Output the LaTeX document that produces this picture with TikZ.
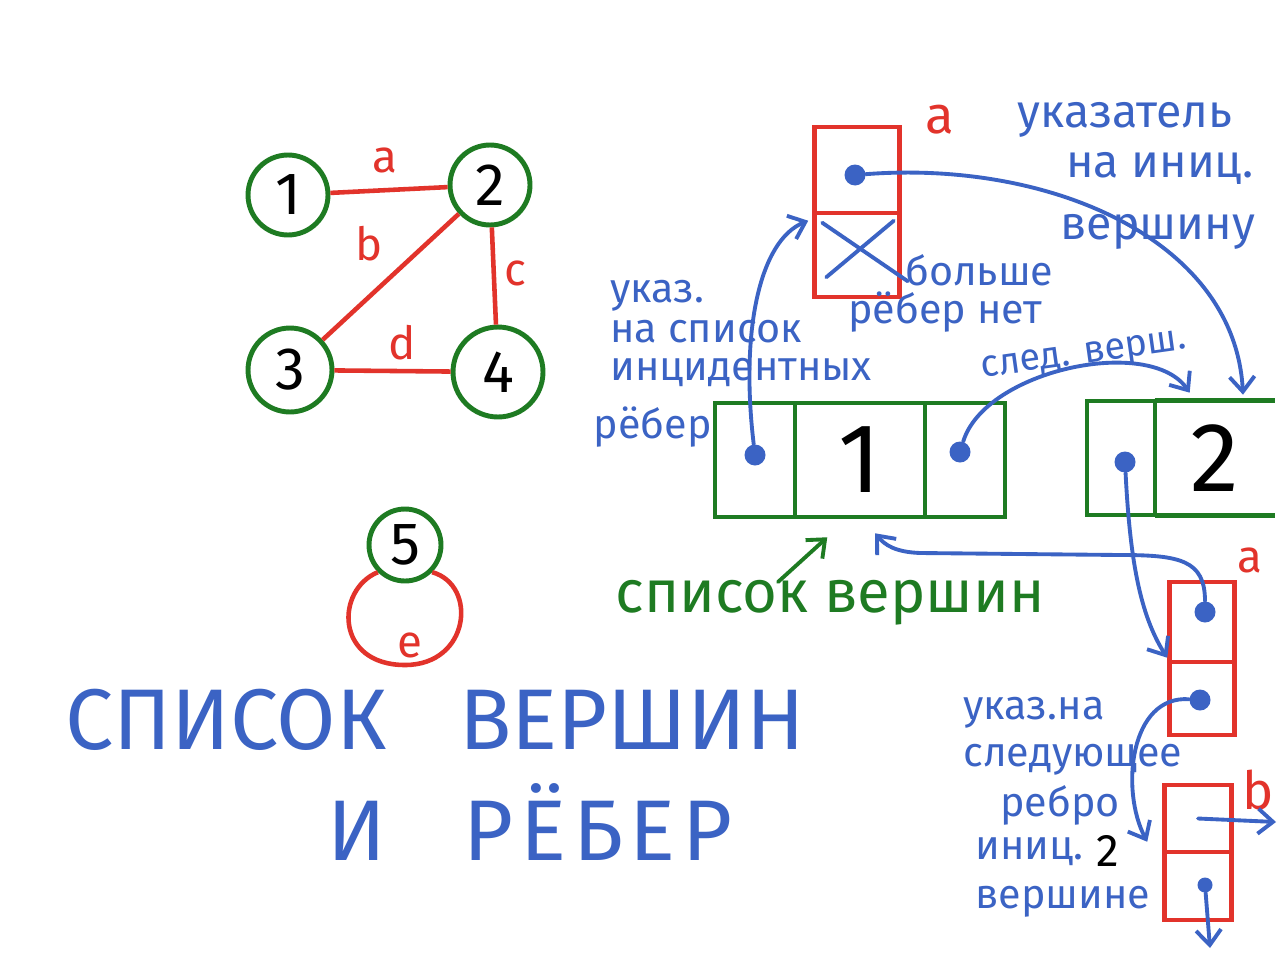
\documentclass[tikz,border=0pt]{standalone}
\usepackage{fontspec}
\setmainfont{Fira Sans}
\usetikzlibrary{arrows.meta,calc,positioning}
\definecolor{bl}{HTML}{3B63C4}
\definecolor{gr}{HTML}{1E7B22}
\definecolor{rd}{HTML}{E2332B}
\tikzset{
  gv/.style={circle,draw=gr,line width=2.8pt,inner sep=0pt,font=\fontsize{34}{34}\selectfont},
  redge/.style={draw=rd,line width=2.6pt},
  rlab/.style={text=rd,font=\fontsize{26}{26}\selectfont,inner sep=0pt},
  gcell/.style={draw=gr,line width=2.6pt,inner sep=0pt,minimum height=2.28cm},
  rcell/.style={draw=rd,line width=2.6pt,inner sep=0pt},
  bdot/.style={circle,fill=bl,minimum size=0.42cm,inner sep=0pt},
  barrow/.style={draw=bl,line width=2.2pt,line cap=round,-{Straight Barb[length=3mm,width=5mm]}},
  bline/.style={draw=bl,line width=2.2pt,line cap=round},
  btxt/.style={text=bl,font=\fontsize{23.5}{23.5}\selectfont,inner sep=0pt},
  bigtxt/.style={text=bl,font=\fontsize{26.5}{26.5}\selectfont,inner sep=0pt},
  ttl/.style={text=bl,font=\fontsize{49}{49}\selectfont,inner sep=0pt},
}
\begin{document}
\begin{tikzpicture}[x=0.02cm,y=-0.02cm]
\useasboundingbox[fill=white] (0,0) rectangle (1280,960);

% ---------- graph ----------
\node[gv,minimum size=1.6cm] (v1) at (288,195) {1};
\node[gv,minimum size=1.6cm] (v2) at (490,185) {2};
\node[gv,minimum size=1.68cm] (v3) at (290,370) {3};
\node[gv,minimum size=1.8cm] (v4) at (498,372) {4};
\draw[redge] (v1) -- node[rlab,shift={(-4,-30)}] (la) {a} (v2);
\draw[redge] (v2) -- node[rlab,shift={(-22,-33)}] (lb) {b} (v3);
\draw[redge] (v2) -- node[rlab,shift={(22,-3)}] (lc) {c} (v4);
\draw[redge] (v3) -- node[rlab,shift={(10,-28)}] (ld) {d} (v4);

\node[gv,minimum size=1.44cm,fill=white] (v5) at (405,545) {5};
\draw[redge] (v5.225) .. controls (335,590) and (335,665) .. (405,665)
  .. controls (470,665) and (478,585) .. (v5.315);
\node[rlab] (le) at (410,645) {e};

% ---------- title ----------
\node[ttl] (t1) at (435,720) {СПИСОК\hspace{1.45cm}ВЕРШИН};
\node[ttl] (t2) at (530,822) {И\hspace{1.55cm}\addfontfeature{LetterSpace=8}РЁБЕР};

% ---------- vertex list ----------
\node[gcell,minimum width=1.6cm] (c11) at (755,460) {};
\node[gcell,minimum width=2.6cm,text depth=0pt,font=\fontsize{56}{56}\selectfont] (c12) at (860,460) {1};
\node[gcell,minimum width=1.6cm] (c13) at (965,460) {};
\node[gcell,minimum width=1.36cm] (c21) at (1121,458) {};
\node[inner sep=0pt,minimum width=2.4cm,minimum height=2.28cm,font=\fontsize{56}{56}\selectfont] (c22) at (1215,458) {2};
\draw[draw=gr,line width=2.6pt] (c22.north west) -- (c22.north east);
\draw[draw=gr,line width=2.6pt] (c22.south west) -- (c22.south east);

\node[bdot] (d11) at (755,455) {};
\node[bdot] (d13) at (960,452) {};
\node[bdot] (d21) at (1125,462) {};

% ---------- edge record a (top) ----------
\node[rcell,minimum width=1.7cm,minimum height=1.72cm] (ea1) at (857,170) {};
\node[rcell,minimum width=1.7cm,minimum height=1.68cm] (ea2) at (857,255) {};
\node[bdot] (dea1) at (855,175) {};
\draw[bline] ($(ea2.north west)+(10,12)$) -- ($(ea2.south east)+(6,-18)$);
\draw[bline] ($(ea2.north east)+(-8,10)$) -- ($(ea2.south west)+(14,-22)$);
\node[text=rd,font=\fontsize{30}{30}\selectfont,inner sep=0pt] (lra) at (940,120) {a};

% ---------- edge record a (bottom right) ----------
\node[rcell,minimum width=1.3cm,minimum height=1.6cm] (eA1) at (1202,622) {};
\node[rcell,minimum width=1.3cm,minimum height=1.46cm] (eA2) at (1202,698.5) {};
\node[bdot] (deA1) at (1205,612) {};
\node[bdot] (deA2) at (1200,700) {};
\node[text=rd,font=\fontsize{26}{26}\selectfont,inner sep=0pt] (lrA) at (1250,560) {a};

% ---------- edge record b ----------
\node[rcell,minimum width=1.34cm,minimum height=1.34cm] (eB1) at (1198,818.5) {};
\node[rcell,minimum width=1.34cm,minimum height=1.36cm] (eB2) at (1198,886) {};
\node[bdot,minimum size=0.3cm] (deB2) at (1205,885) {};
\node[text=rd,font=\fontsize{30}{30}\selectfont,inner sep=0pt] (lrB) at (1258,790) {b};
\coordinate (bout) at (1276,822);
\coordinate (bdown) at (1210,948);

% ---------- arrows ----------
\draw[barrow] (dea1) .. controls (1050,160) and (1235,240) .. ($(c22.north)+(28,-6)$);
\draw[barrow] (d11) .. controls (740,330) and (760,240) .. ($(ea2.north west)+(-4,10)$);
\draw[barrow] (d13) .. controls (985,370) and (1150,335) .. ($(c22.north west)+(35,-8)$);
\draw[barrow] (d21) .. controls (1130,560) and (1140,615) .. ($(eA2.north west)+(0,-2)$);
\draw[barrow] (deA1) .. controls (1205,560) and (1180,555) .. (1120,555) -- (920,553)
   .. controls (895,552) and (885,545) .. ($(c12.south)+(15,14)$);
\draw[barrow] (deA2) .. controls (1130,695) and (1120,790) .. ($(eB2.north west)+(-15,-8)$);
\draw[barrow] (eB1.center) -- (bout);
\draw[barrow] (deB2) -- (bdown);

% ---------- texts ----------
\node[bigtxt] (t_uk) at (1125,120) {указатель};
\node[bigtxt] (t_na) at (1160,168) {на иниц.};
\node[bigtxt] (t_ve) at (1158,232) {вершину};

\node[btxt,anchor=west] (l1) at (610,296) {указ.};
\node[btxt,anchor=west] (l2) at (610,332) {на список};
\node[btxt,anchor=west] (l3) at (610,372) {инцидентных};
\node[btxt,anchor=east] (l4) at (712,427) {рёбер};

\node[btxt,anchor=west] (m1) at (905,270) {больше};
\node[btxt,anchor=west] (m2) at (848,312) {рёбер нет};

\node[text=bl,font=\fontsize{21.5}{21.5}\selectfont,inner sep=0pt,rotate=8] (sl) at (1084,357) {след. верш.};

\node[text=gr,font=\fontsize{34}{34}\selectfont,inner sep=0pt] (sv) at (830,603) {список вершин};
\draw[draw=gr,line width=2.2pt,line cap=round,-{Straight Barb[length=3mm,width=5mm]}] (778,582) -- ($(c11.south east)+(30,18)$);

\node[btxt,anchor=west] (n1) at (963,713) {указ.на};
\node[btxt,anchor=west] (n2) at (963,760) {следующее};
\node[btxt,anchor=west] (n3) at (1000,805) {ребро};
\node[btxt,anchor=west] (n4) at (975,852) {иниц.};
\node[font=\fontsize{26}{26}\selectfont,inner sep=0pt] (n4b) at (1108,851) {2};
\node[btxt,anchor=west] (n5) at (975,902) {вершине};
\end{tikzpicture}
\end{document}
